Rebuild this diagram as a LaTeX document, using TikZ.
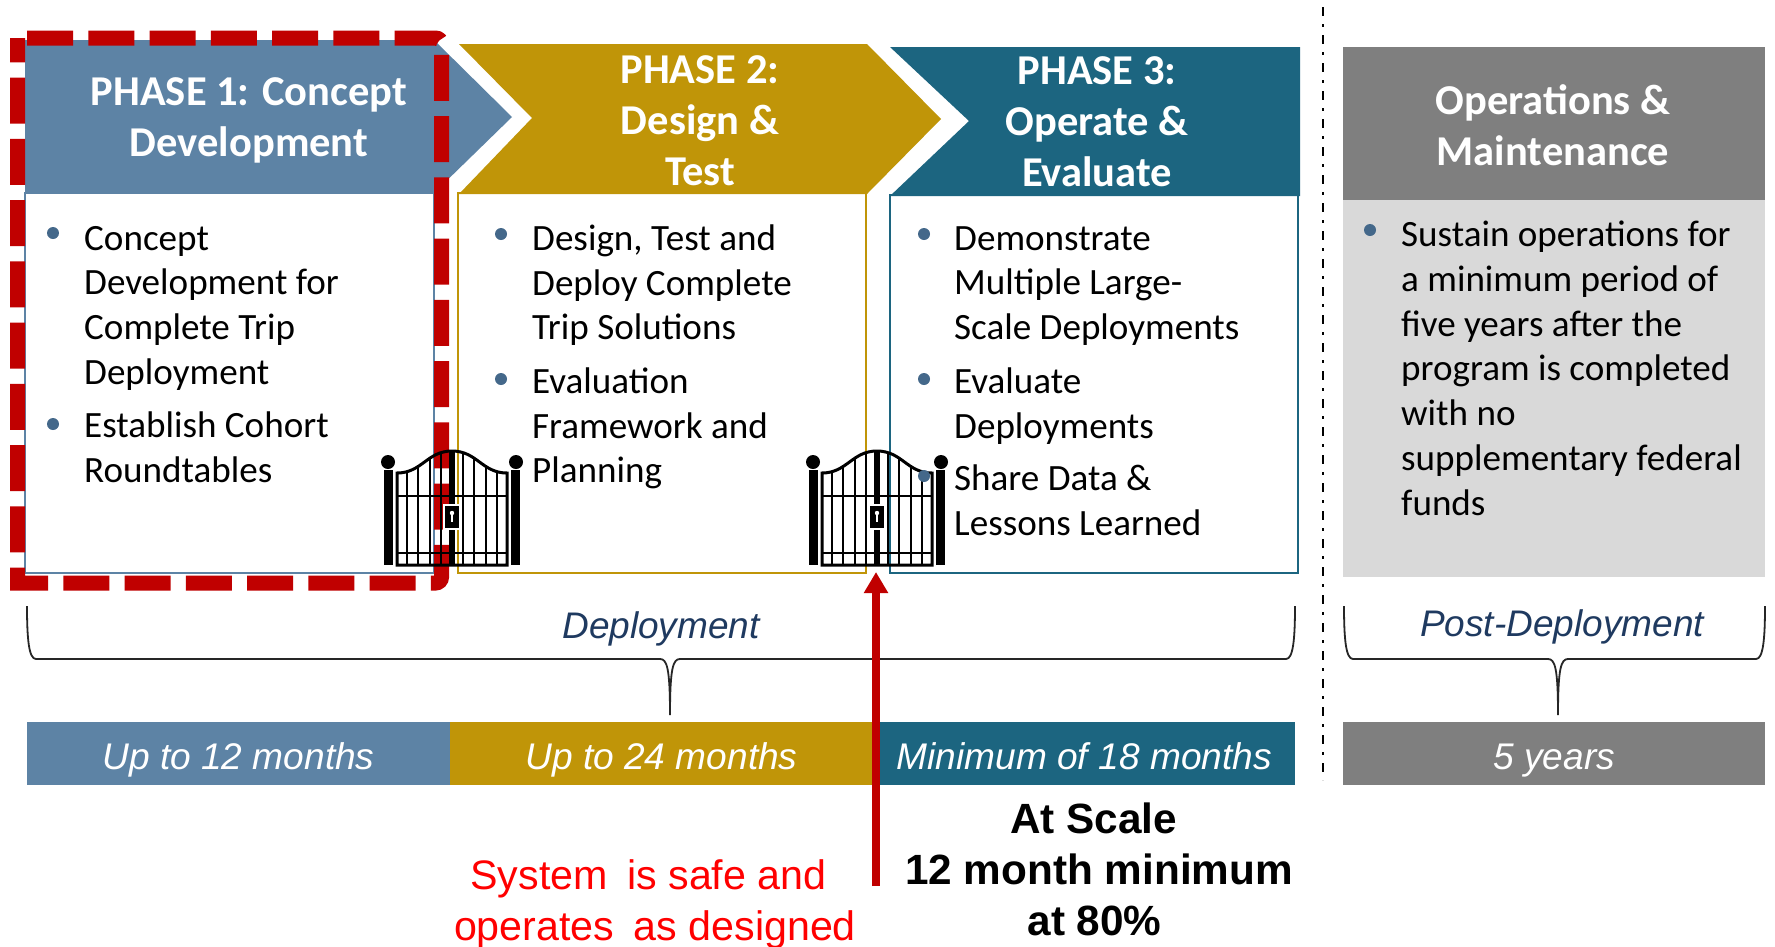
\documentclass[tikz,border=0pt]{standalone}
\usepackage{fontspec}
\usepackage{tikz}
\usetikzlibrary{arrows.meta}
\setmainfont{Carlito}
\newfontfamily\arialfont{Liberation Sans}

\definecolor{phaseblue}{HTML}{5D83A5}
\definecolor{phasegold}{HTML}{C09508}
\definecolor{phaseteal}{HTML}{1C6580}
\definecolor{opsgray}{HTML}{7F7F7F}
\definecolor{opslight}{HTML}{D9D9D9}
\definecolor{gatered}{HTML}{C00000}
\definecolor{dotblue}{HTML}{44688A}
\definecolor{labelnavy}{HTML}{1F3A60}

\tikzset{
    headtext/.style={text=white, align=center, inner sep=0pt, font=\fontsize{42.5}{51}\selectfont\bfseries},
    bodytext/.style={anchor=north west, align=left, inner sep=0pt, font=\fontsize{37.1}{44.7}\selectfont, execute at begin node=\strut},
    bardur/.style={anchor=north west, minimum height=63pt, inner sep=0pt, text height=36pt, text depth=5pt, text=white, font=\arialfont\itshape\fontsize{37.1}{44}\selectfont},
    spanlabel/.style={inner sep=0pt, text=labelnavy, font=\arialfont\itshape\fontsize{37}{44}\selectfont},
    bulletdot/.style={circle, fill=dotblue, minimum size=12pt, inner sep=0pt},
    bracket/.style={line width=1.8pt, black!85},
    gatepic/.pic={
        \fill[black] (-68,-95) rectangle (-59,0);
        \fill[black] (59,-95) rectangle (68,0);
        \fill[black] (-64,-103) circle (7);
        \fill[black] (64,-103) circle (7);
        \draw[line width=3pt] (-55,0) -- (-55,-92) .. controls (-30,-92) and (-25,-114) .. (0,-114) .. controls (25,-114) and (30,-92) .. (55,-92) -- (55,0) -- cycle;
        \foreach \bx/\btop in {11/112, 22/107, 34/98, 45/94} {
            \draw[line width=2pt] (-\bx,0) -- (-\bx,-\btop);
            \draw[line width=2pt] (\bx,0) -- (\bx,-\btop);
        }
        \draw[line width=2.4pt] (-55,-69) -- (55,-69);
        \draw[line width=2.4pt] (-55,-12) -- (55,-12);
        \fill[black] (-3,0) rectangle (3,-114);
        \fill[white] (-9,-61) rectangle (9,-35);
        \fill[black] (-7,-59) rectangle (7,-37);
        \fill[white] (0,-52) circle (2.2);
        \fill[white] (-1.2,-52) rectangle (1.2,-43);
    },
}

\begin{document}
\begin{tikzpicture}[x=1pt, y=-1pt]
    \useasboundingbox (0,0) rectangle (1775,946);
    \fill[white] (0,0) rectangle (1775,946);

    \draw[phaseblue, line width=2pt] (25,193) rectangle (433.5,573);
    \draw[phasegold, line width=2pt] (458,193) rectangle (866,573);
    \draw[phaseteal, line width=2pt] (890,195) rectangle (1298,573);
    \fill[opslight] (1343,200) rectangle (1765,577);

    \fill[phaseblue] (25,40) -- (434,40) -- (512,117) -- (434,193) -- (25,193) -- cycle;
    \fill[phasegold] (459,44) -- (867,44) -- (941,119) -- (867,194) -- (459,194) -- (532,118) -- cycle;
    \fill[phaseteal] (890,47) -- (1300,47) -- (1300,196) -- (890,196) -- (969,121) -- cycle;
    \fill[opsgray] (1343,47) rectangle (1765,200);

    \draw[gatered, line width=15pt, dash pattern=on 46pt off 15.25pt, rounded corners=6pt] (27,38) -- (441.5,38) -- (441.5,583) [sharp corners] -- (17.5,583) -- (17.5,38);

    \node[headtext] (phaseone) at (249,120) {PHASE 1: Concept\\Development};
    \node[headtext] (phasetwo) at (700,121) {PHASE 2:\\Design \&\\Test};
    \node[headtext] (phasethree) at (1097,122) {PHASE 3:\\Operate \&\\Evaluate};
    \node[headtext] (opshead) at (1553,125) {Operations \&\\Maintenance};

    \pic at (452,565) {gatepic};
    \pic at (877,565) {gatepic};

    \foreach \bx/\by [count=\i] in {53/233, 53/424, 501/234, 501/379, 924/234, 924/379, 924/476, 1370/230} {
        \node[bulletdot] (bullet\i) at (\bx,\by) {};
    }

    \node[bodytext] (oneA) at (84,226) {Concept\\Development for\\Complete Trip\\Deployment};
    \node[bodytext] (oneB) at (84,412) {Establish Cohort\\Roundtables};
    \node[bodytext] (twoA) at (532,224.5) {Design, Test and\\Deploy Complete\\Trip Solutions};
    \node[bodytext] (twoB) at (532,367.5) {Evaluation\\Framework and\\Planning};
    \node[bodytext] (threeA) at (954,226) {Demonstrate\\Multiple Large-\\Scale Deployments};
    \node[bodytext] (threeB) at (954,367.5) {Evaluate\\Deployments};
    \node[bodytext] (threeC) at (954,465) {Share Data \&\\Lessons Learned};
    \node[bodytext] (opsbody) at (1401,221) {Sustain operations for\\a minimum period of\\five years after the\\program is completed\\with no\\supplementary federal\\funds};

    \draw[line width=2pt, dash pattern=on 9pt off 8pt on 2.5pt off 8.5pt] (1323,7) -- (1323,780);

    \node[spanlabel] (deploylabel) at (661,629) {Deployment};
    \node[spanlabel] (postlabel) at (1562,626.5) {Post-Deployment};

    \draw[bracket] (27,606) .. controls (27,640) and (29,659) .. (36,659) -- (660,659) .. controls (667,659) and (670,668) .. (670,715) .. controls (670,668) and (673,659) .. (680,659) -- (1286,659) .. controls (1293,659) and (1295,640) .. (1295,606);
    \draw[bracket] (1344,606) .. controls (1344,640) and (1346,659) .. (1353,659) -- (1548,659) .. controls (1555,659) and (1558,668) .. (1558,715) .. controls (1558,668) and (1561,659) .. (1568,659) -- (1756,659) .. controls (1763,659) and (1765,640) .. (1765,606);

    \node[bardur, fill=phaseblue, minimum width=422.5pt] (barone) at (27,722) {Up to 12 months};
    \node[bardur, fill=phasegold, minimum width=423.5pt] (bartwo) at (449.5,722) {Up to 24 months};
    \node[bardur, fill=phaseteal, minimum width=422pt] (barthree) at (873,722) {Minimum of 18 months};
    \node[bardur, fill=opsgray, minimum width=422pt] (barops) at (1343,722) {5 years};

    \coordinate (safebase) at (876,886);
    \coordinate (safetip) at (876,572);
    \draw[-{Triangle[length=21pt, width=23pt]}, gatered, line width=7.5pt] (safebase) -- (safetip);

    \node[inner sep=0pt, align=center, text=red, font=\arialfont\fontsize{41.2}{51}\selectfont] (safetext) at (655,904.5) {System\hspace{8pt} is safe and\hspace{13pt}\mbox{}\\operates\hspace{8pt} as designed};
    \node[inner sep=0pt, align=center, font=\arialfont\bfseries\fontsize{42.3}{51}\selectfont] (scaletext) at (1099,869) {At Scale\hspace{11pt}\mbox{}\\12 month minimum\\at 80\%\hspace{9pt}\mbox{}};
\end{tikzpicture}
\end{document}
